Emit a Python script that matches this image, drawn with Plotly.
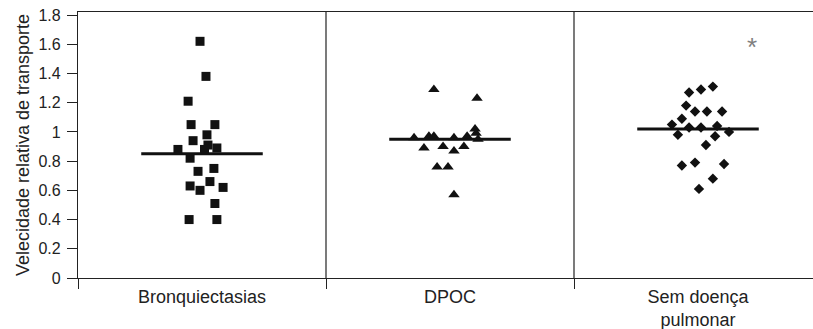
import plotly.graph_objects as go

categories = ["Bronquiectasias", "DPOC", "Sem doença<br>pulmonar"]

# Bronquiectasias (squares)
bronq_offset = [-0.008, 0.016, -0.056, -0.044, 0.052, 0.020, -0.036, -0.097, 0.024, 0.060,
                0.010, -0.048, -0.016, 0.048, 0.032, -0.048, -0.008, 0.085, 0.052, -0.052, 0.060]
bronq_values = [1.62, 1.38, 1.21, 1.05, 1.05, 0.98, 0.94, 0.88, 0.91, 0.89,
                0.88, 0.82, 0.73, 0.75, 0.66, 0.63, 0.60, 0.62, 0.51, 0.40, 0.40]

# DPOC (triangles)
dpoc_offset = [-0.065, 0.109, 0.101, 0.105, -0.145, -0.085, -0.065, 0.016, 0.069, 0.113,
               -0.105, -0.028, 0.016, 0.056, -0.052, -0.008, 0.016]
dpoc_values = [1.29, 1.23, 1.02, 0.99, 0.96, 0.97, 0.97, 0.96, 0.97, 0.95,
               0.89, 0.90, 0.87, 0.90, 0.76, 0.76, 0.57]

# Sem doença pulmonar (diamonds)
sem_offset = [0.060, 0.012, -0.036, -0.048, -0.012, 0.036, 0.097, -0.065, -0.105, -0.081,
              -0.036, 0.012, 0.077, 0.125, 0.069, 0.032, -0.065, -0.012, 0.105, 0.060, 0.004]
sem_values = [1.31, 1.29, 1.27, 1.18, 1.14, 1.14, 1.14, 1.09, 1.05, 0.98,
              1.03, 1.03, 1.04, 1.00, 0.97, 0.91, 0.77, 0.79, 0.78, 0.68, 0.61]

means = [0.85, 0.95, 1.02]
star_offset = 0.218
star_value = 1.61

y_ticks = [0, 0.2, 0.4, 0.6, 0.8, 1, 1.2, 1.4, 1.6, 1.8]

fig = go.Figure()

half = 0.245
for i, m in enumerate(means):
    fig.add_trace(go.Scatter(x=[i - half, i + half], y=[m, m], mode="lines",
                             line=dict(color="#111111", width=3), showlegend=False,
                             hoverinfo="skip"))

groups = [(0, bronq_offset, bronq_values, "square", 9),
          (1, dpoc_offset, dpoc_values, "triangle-up", 10),
          (2, sem_offset, sem_values, "diamond", 8)]
for c, offs, vals, sym, sz in groups:
    fig.add_trace(go.Scatter(x=[c + o for o in offs], y=vals, mode="markers",
                             marker=dict(symbol=sym, size=sz, color="#111111",
                                         line=dict(width=0)),
                             showlegend=False))

fig.add_annotation(x=2 + star_offset, y=star_value, text="*", showarrow=False,
                   font=dict(family="Liberation Sans, Arial", size=26, color="#808080"),
                   yshift=-4)

for xv in [0.5, 1.5]:
    fig.add_shape(type="line", xref="x", yref="paper", x0=xv, x1=xv, y0=0, y1=1,
                  line=dict(color="#222222", width=1.2))

fig.update_layout(
    width=813, height=329,
    margin=dict(l=78, r=0, t=12, b=51),
    plot_bgcolor="white", paper_bgcolor="white",
    font=dict(family="Liberation Sans, Arial", color="#222222"),
    xaxis=dict(range=[-0.5, -0.5 + 735 / 248], tickmode="array", tickvals=[0, 1, 2],
               ticktext=categories, ticks="", showline=True, linecolor="#222222",
               linewidth=1.2, mirror=True, showgrid=False, zeroline=False,
               automargin=False,
               tickfont=dict(size=18, color="#222222"), ticklabelstandoff=2,
               minor=dict(tickmode="array", tickvals=[-0.5, 0.5, 1.5], ticks="outside",
                          ticklen=10, tickcolor="#222222", tickwidth=1.2, showgrid=False)),
    yaxis=dict(range=[0, 266 / 146.1], tickmode="array", tickvals=y_ticks,
               ticks="outside", ticklen=10, tickcolor="#222222", tickwidth=1.2,
               showline=True, linecolor="#222222", linewidth=1.2, showgrid=False,
               zeroline=False, automargin=False, tickfont=dict(size=16, color="#222222"),
               ticklabelstandoff=3, ticklabeloverflow="allow",
               title=dict(text="Velecidade relativa de transporte",
                          font=dict(size=18, color="#222222"), standoff=4)),
)

# remove the browser's default 8px body margin so the figure sits at the page origin
fig.write_html("out.html", config={"displayModeBar": False},
               post_script="document.body.style.margin='0';")
